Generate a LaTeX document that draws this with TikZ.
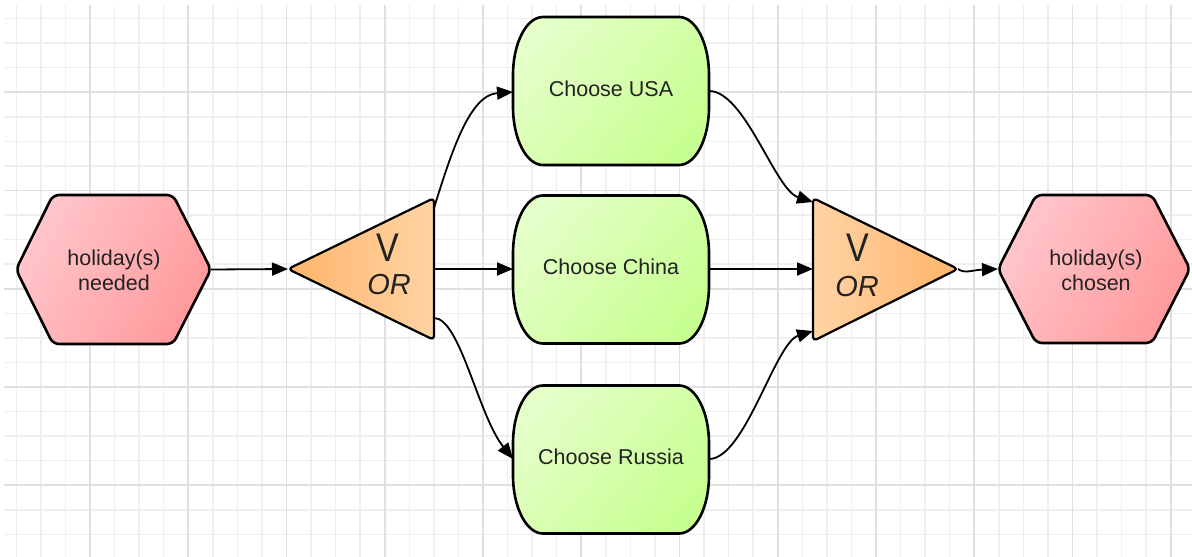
\documentclass[tikz,border=0pt]{standalone}
\usepackage{fontspec}
\setmainfont{Liberation Sans}
\usetikzlibrary{arrows.meta}
\definecolor{gridminor}{HTML}{EFEFEF}
\definecolor{gridmajor}{HTML}{E0E0E0}
\definecolor{pinkA}{HTML}{FFC6CB}
\definecolor{pinkB}{HTML}{FF9A9C}
\definecolor{orA}{HTML}{FFD4A6}
\definecolor{orB}{HTML}{FFB468}
\definecolor{grA}{HTML}{E4FFC8}
\definecolor{grB}{HTML}{C8FF92}
\definecolor{txt}{HTML}{222222}
\newcommand\choosepath[1]{(543,{#1-74}) -- (679,{#1-74})
  arc[start angle=-90,end angle=0,x radius=30,y radius=58] -- (709,{#1+16})
  arc[start angle=0,end angle=90,x radius=30,y radius=58] -- (543,{#1+74})
  arc[start angle=90,end angle=180,x radius=30,y radius=58] -- (513,{#1-16})
  arc[start angle=180,end angle=270,x radius=30,y radius=58] -- cycle}
\begin{document}
\begin{tikzpicture}[x=1pt,y=-1pt,
  minorline/.style={draw=gridminor, line width=1.5pt},
  majorline/.style={draw=gridmajor, line width=1.7pt},
  border/.style={draw=black, line width=2.6pt, line join=round},
  hexfill/.style={top color=pinkA, bottom color=pinkB, shading angle=60},
  boxfill/.style={top color=grA, bottom color=grB, shading angle=50},
  orfillA/.style={left color=orB, right color=orA},
  orfillB/.style={left color=orA, right color=orB},
  conn/.style={draw=black, line width=1.8pt, -{Triangle[length=16pt,width=13pt]}},
  lbl/.style={font=\fontsize{21.5}{25}\selectfont, text=txt, align=center, inner sep=0pt},
  vlbl/.style={font=\fontsize{40}{40}\selectfont, text=txt, inner sep=0pt},
  orlbl/.style={font=\fontsize{29}{29}\selectfont\itshape, text=txt, inner sep=0pt}]
\useasboundingbox (0,0) rectangle (1192,557);
% grid
\foreach \i in {0,...,47}{\path[minorline] ({16.3+24.5625*\i},5) -- ({16.3+24.5625*\i},557);}
\foreach \j in {0,...,21}{\path[minorline] (4,{18.6+24.5625*\j}) -- (1192,{18.6+24.5625*\j});}
\foreach \i in {0,...,11}{\path[majorline] ({90+98.25*\i},5) -- ({90+98.25*\i},557);}
\foreach \j in {0,...,4}{\path[majorline] (4,{92.3+98.25*\j}) -- (1192,{92.3+98.25*\j});}
% hexagons
\path[border, hexfill, rounded corners=6pt] (16,269.5) -- (53,195) -- (173,195) -- (211,269.5) -- (173,344) -- (53,344) -- cycle;
\path[border, hexfill, rounded corners=6pt] (998,269) -- (1036,195) -- (1152,195) -- (1190,269) -- (1152,343) -- (1036,343) -- cycle;
% triangles
\path[border, line width=2.2pt, orfillA, rounded corners=4pt] (288,269) -- (434,198) -- (434,340) -- cycle;
\path[border, line width=2.2pt, orfillB, rounded corners=4pt] (813,198) -- (958,269) -- (813,341) -- cycle;
% boxes
\path[border, boxfill] \choosepath{91};
\path[border, boxfill] \choosepath{269.5};
\path[border, boxfill] \choosepath{459.5};
% labels
\node[lbl] (h1) at (114,270) {holiday(s)\\needed};
\node[lbl] (h2) at (1096,270) {holiday(s)\\chosen};
\node[vlbl] (t1v) at (388,247.5) {\scalebox{0.85}[1]{V}};
\node[orlbl] (t1or) at (389,285) {OR};
\node[vlbl] (t2v) at (858,248) {\scalebox{0.85}[1]{V}};
\node[orlbl] (t2or) at (857,287) {OR};
\node[lbl] (usa) at (611,89) {Choose USA};
\node[lbl] (china) at (611,267) {Choose China};
\node[lbl] (russia) at (611,457) {Choose Russia};
% connection points
\coordinate (h1E) at (211,269.5);
\coordinate (t1W) at (288,269);
\coordinate (t1E) at (434,269);
\coordinate (t1NE) at (434,208);
\coordinate (t1SE) at (434,318);
\coordinate (usaW) at (513,92);
\coordinate (usaE) at (709,91);
\coordinate (chinaW) at (513,269);
\coordinate (chinaE) at (709,269);
\coordinate (russiaW) at (513,459);
\coordinate (russiaE) at (709,459);
\coordinate (t2NW) at (813,202);
\coordinate (t2W) at (813,269);
\coordinate (t2SW) at (813,331);
\coordinate (t2E) at (958,269);
\coordinate (h2W) at (998,269);
% connectors
\draw[conn] (h1E) -- (t1W);
\draw[conn] (t1E) -- (chinaW);
\draw[conn] (t1NE) .. controls (452,150) and (470,95) .. (usaW);
\draw[conn] (t1SE) .. controls (460,318) and (478,415) .. (russiaW);
\draw[conn] (usaE) .. controls (745,91) and (775,190) .. (t2NW);
\draw[conn] (chinaE) -- (t2W);
\draw[conn] (russiaE) .. controls (745,459) and (775,343) .. (t2SW);
\draw[conn] (t2E) .. controls (965,274) and (972,270) .. (h2W);
\end{tikzpicture}
\end{document}
